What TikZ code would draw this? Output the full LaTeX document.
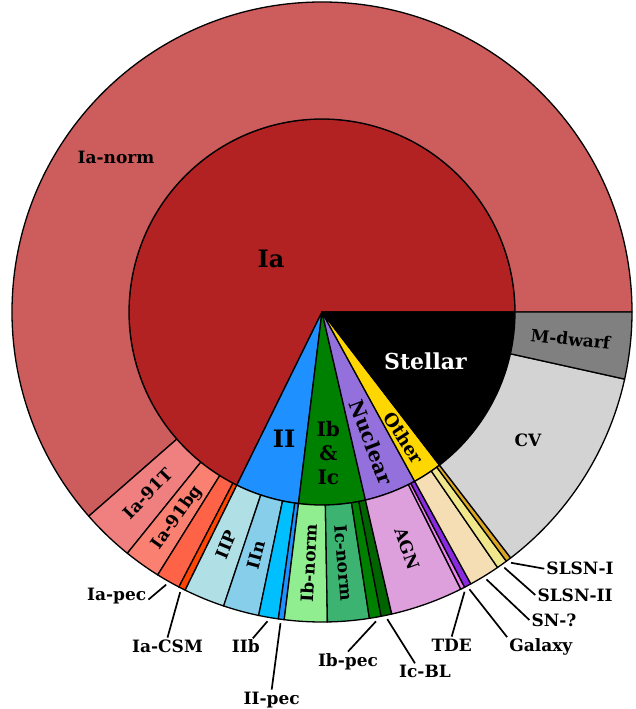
\documentclass[tikz,border=0pt]{standalone}
\usepackage{fontspec}
\setmainfont{DejaVu Serif}
\usepackage{tikz}

\definecolor{cIa}{HTML}{B22222}
\definecolor{cIaNorm}{HTML}{CD5C5C}
\definecolor{cIaT}{HTML}{F08080}
\definecolor{cIaBg}{HTML}{FA8072}
\definecolor{cIaPec}{HTML}{FF6347}
\definecolor{cIaCsm}{HTML}{FF4500}
\definecolor{cII}{HTML}{1E90FF}
\definecolor{cIIP}{HTML}{B0E0E6}
\definecolor{cIIn}{HTML}{87CEEB}
\definecolor{cIIb}{HTML}{00BFFF}
\definecolor{cIIPec}{HTML}{1E90FF}
\definecolor{cIbc}{HTML}{008000}
\definecolor{cIbNorm}{HTML}{90EE90}
\definecolor{cIcNorm}{HTML}{3CB371}
\definecolor{cIbPec}{HTML}{008000}
\definecolor{cIcBL}{HTML}{006400}
\definecolor{cNuc}{HTML}{9370DB}
\definecolor{cAGN}{HTML}{DDA0DD}
\definecolor{cTDE}{HTML}{EE82EE}
\definecolor{cGal}{HTML}{8A2BE2}
\definecolor{cOther}{HTML}{FFD700}
\definecolor{cSNq}{HTML}{F5DEB3}
\definecolor{cSLII}{HTML}{F0E68C}
\definecolor{cSLI}{HTML}{DAA520}
\definecolor{cStellar}{HTML}{000000}
\definecolor{cCV}{HTML}{D3D3D3}
\definecolor{cMd}{HTML}{808080}

\tikzset{
  wedge/.style={draw=black, line width=1.3pt, line join=round},
  outlbl/.style={font=\fontsize{17}{19}\selectfont\bfseries, inner sep=2pt,
    text height=12.4pt, text depth=0pt},
  biglbl/.style={font=\fontsize{24}{26}\selectfont\bfseries},
  midlbl/.style={font=\fontsize{20}{24}\selectfont\bfseries},
  callout/.style={draw=black, line width=1.7pt},
}

\begin{document}
\begin{tikzpicture}[x=1pt, y=1pt]
	\useasboundingbox (-322,-397) rectangle (313,312);
	% inner ring
	\foreach \a/\b/\c in {0/243.8/cIa, 243.8/263/cII, 263/283/cIbc,
	    283/298.7/cNuc, 298.7/307.5/cOther, 307.5/360/cStellar}
	  \filldraw[wedge, fill=\c] (0,0) -- (\a:193) arc[start angle=\a, end angle=\b, radius=193] -- cycle;
	% outer ring
	\foreach \a/\b/\c in {0/221.2/cIaNorm, 221.2/231.1/cIaT, 231.1/238/cIaBg,
	    238/242.5/cIaPec, 242.5/243.8/cIaCsm, 243.8/251.5/cIIP, 251.5/258.2/cIIn,
	    258.2/261.9/cIIb, 261.9/263/cIIPec, 263/271/cIbNorm, 271/278.8/cIcNorm,
	    278.8/281/cIbPec, 281/283/cIcBL, 283/296.6/cAGN, 296.6/297.4/cTDE,
	    297.4/298.7/cGal, 298.7/304.5/cSNq, 304.5/306.5/cSLII, 306.5/307.5/cSLI,
	    307.5/347.5/cCV, 347.5/360/cMd}
	  \filldraw[wedge, fill=\c] (\a:193) -- (\a:310) arc[start angle=\a, end angle=\b, radius=310]
	    -- (\b:193) arc[start angle=\b, end angle=\a, radius=193] -- cycle;

	\node[biglbl] (ia) at (-51,53) {Ia};
	\node[biglbl] (ii) at (-38,-126.7) {II};
	\node[midlbl, align=center] (ibc) at (6.3,-141) {Ib\\\&\\Ic};
	\node[midlbl, rotate=-69.2] (nuc) at (290.8:139) {Nuclear};
	\node[font=\fontsize{18}{20}\selectfont\bfseries, rotate=-56.9] (oth) at (303.1:150) {Other};
	\node[font=\fontsize{22}{24}\selectfont\bfseries, text=white] (stel) at (103.5,-49) {Stellar};

	\node[outlbl] (ianorm) at (-206,154.5) {Ia-norm};
	\node[outlbl, rotate=46.15] (ia91t) at (226.15:251.5) {Ia-91T};
	\node[outlbl, rotate=54.55] (ia91bg) at (234.55:251.5) {Ia-91bg};
	\node[outlbl, rotate=67.65] (iip) at (247.65:251.5) {IIP};
	\node[outlbl, rotate=74.85] (iin) at (254.85:251.5) {IIn};
	\node[outlbl, rotate=87] (ibnorm) at (267:251.5) {Ib-norm};
	\node[outlbl, rotate=-85.1] (icnorm) at (274.9:251.5) {Ic-norm};
	\node[outlbl, rotate=-70.2] (agn) at (289.8:251.5) {AGN};
	\node[outlbl] (cv) at (206,-128) {CV};
	\node[outlbl, rotate=-6.25] (mdwarf) at (353.75:250) {M-dwarf};

	% small slices
	\coordinate (iapec-a) at (240.25:314);
	\coordinate (iacsm-a) at (243.15:314);
	\coordinate (iib-a) at (260:314);
	\coordinate (iipec-a) at (262.4:314);
	\coordinate (ibpec-a) at (279.9:314);
	\coordinate (icbl-a) at (282:314);
	\coordinate (tde-a) at (297:314);
	\coordinate (gal-a) at (298:314);
	\coordinate (snq-a) at (301.6:314);
	\coordinate (slii-a) at (305.5:314);
	\coordinate (sli-a) at (307:314);

	\node[outlbl] (iapec) at (-205.3,-282) {Ia-pec};
	\node[outlbl] (iacsm) at (-154.5,-334) {Ia-CSM};
	\node[outlbl] (iib) at (-76.2,-334.7) {IIb};
	\node[outlbl] (iipec) at (-50.3,-386) {II-pec};
	\node[outlbl] (ibpec) at (26,-348) {Ib-pec};
	\node[outlbl] (icbl) at (103,-359.7) {Ic-BL};
	\node[outlbl] (tde) at (129.7,-333) {TDE};
	\node[outlbl] (gal) at (218.8,-333.5) {Galaxy};
	\node[outlbl] (snq) at (232,-308) {SN-?};
	\node[outlbl] (slii) at (253,-283) {SLSN-II};
	\node[outlbl] (sli) at (258,-256.7) {SLSN-I};

	\draw[callout] (iapec-a) -- (iapec.-10);
	\draw[callout] (iacsm-a) -- (iacsm.north);
	\draw[callout] (iib-a) -- (iib.50);
	\draw[callout] (iipec-a) -- (iipec.north);
	\draw[callout] (ibpec-a) -- (ibpec.north);
	\draw[callout] (icbl-a) -- (icbl.140);
	\draw[callout] (tde-a) -- (tde.north);
	\draw[callout] (gal-a) -- (gal.north west);
	\draw[callout] (snq-a) -- (snq.west);
	\draw[callout] (slii-a) -- (slii.west);
	\draw[callout] (sli-a) -- (sli.west);
\end{tikzpicture}
\end{document}
